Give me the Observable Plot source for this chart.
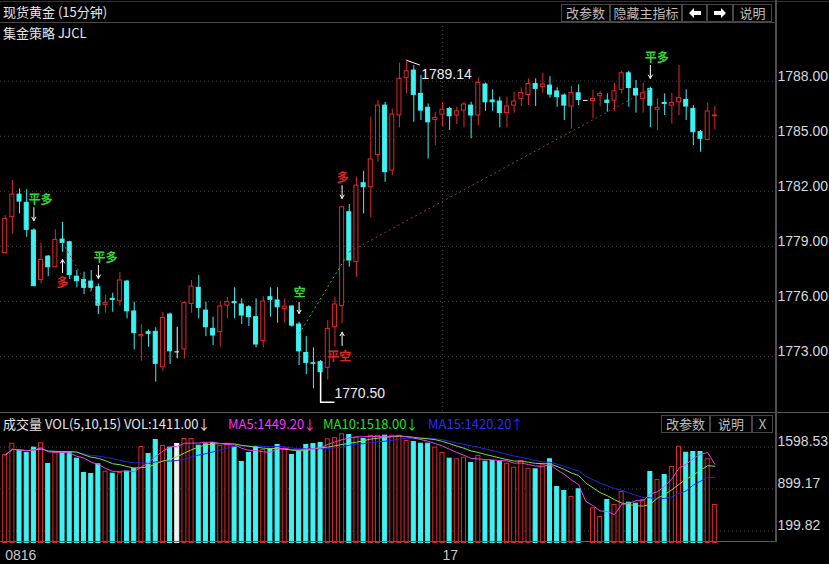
<!DOCTYPE html>
<html><head><meta charset="utf-8">
<script src="https://cdn.jsdelivr.net/npm/d3@7"></script>
<script src="https://cdn.jsdelivr.net/npm/@observablehq/plot@0.6"></script>
<style>
html,body{margin:0;padding:0;background:#000;}
#root{position:relative;width:829px;height:564px;background:#000;overflow:hidden;font-family:"Noto Sans CJK SC","Noto Sans",sans-serif;color:#e6e6e6;}
.abs{position:absolute;white-space:nowrap;}
.btn{position:absolute;box-sizing:border-box;border:1px solid #464646;color:#bdbdbd;font-size:13px;line-height:16px;text-align:center;}
.hl{position:absolute;height:1px;background:#484848;}
.vl{position:absolute;width:2px;background:#4e4e4e;}
</style></head><body><div id="root">
<div id="main" class="abs" style="left:0;top:22px;"></div>
<div id="vol" class="abs" style="left:0;top:412px;"></div>
<div class="abs" style="left:3px;top:2px;font-size:13px;line-height:20px;">现货黄金 (15分钟)</div>
<div class="btn" style="left:561px;top:4px;width:49px;height:18px;">改参数</div>
<div class="btn" style="left:610px;top:4px;width:72px;height:18px;">隐藏主指标</div>
<div class="btn" style="left:682px;top:4px;width:25px;height:18px;"><svg width="12" height="10" style="margin-top:3px"><polygon points="0,5 5,0 5,3 12,3 12,7 5,7 5,10" fill="#fff"/></svg></div>
<div class="btn" style="left:707px;top:4px;width:26px;height:18px;"><svg width="12" height="10" style="margin-top:3px"><polygon points="12,5 7,0 7,3 0,3 0,7 7,7 7,10" fill="#fff"/></svg></div>
<div class="btn" style="left:733px;top:4px;width:39px;height:18px;">说明</div>
<div class="hl" style="left:0;top:1px;width:829px;background:#333;"></div>
<div class="hl" style="left:0;top:22px;width:776px;"></div>
<div class="abs" style="left:3px;top:24px;font-size:13px;line-height:18px;">集金策略 JJCL</div>
<div class="hl" style="left:0;top:412px;width:829px;background:#5a5a5a;"></div>
<div class="abs" style="left:3px;top:415px;font-size:13px;line-height:18px;color:#e6e6e6;">成交量 VOL(5,10,15) VOL:1411.00<span style="margin-left:-1px">↓</span></div>
<div class="abs" style="left:228px;top:415px;font-size:13px;line-height:18px;color:#ff30ff;">MA5:1449.20<span style="margin-left:-1px">↓</span></div>
<div class="abs" style="left:323px;top:415px;font-size:13px;line-height:18px;color:#22e022;">MA10:1518.00<span style="margin-left:-1px">↓</span></div>
<div class="abs" style="left:428px;top:415px;font-size:13px;line-height:18px;color:#2a2aff;">MA15:1420.20<span style="margin-left:-1px">↑</span></div>
<div class="btn" style="left:661px;top:415px;width:49px;height:18px;">改参数</div>
<div class="btn" style="left:710px;top:415px;width:42px;height:18px;">说明</div>
<div class="btn" style="left:752px;top:415px;width:21px;height:18px;">X</div>
<div class="hl" style="left:0;top:541px;width:776px;background:#5a5a5a;"></div>
<div class="vl" style="left:775px;top:0;height:542px;"></div>
</div>
<script>
// ---- data (15-minute bars) ----
const open = [1778.63,1780.59,1781.82,1781.37,1779.86,1777.17,1778.44,1777.86,1779.37,1779.22,
1777.35,1777.17,1777.08,1776.77,1775.81,1776.14,1776.01,1777.08,1775.45,1774.10,
1774.32,1774.34,1772.41,1775.28,1773.25,1773.38,1775.86,1776.74,1775.50,1774.50,
1774.32,1775.77,1775.96,1775.83,1775.68,1775.14,1773.83,1776.23,1776.05,1775.59,
1775.72,1774.74,1773.19,1772.63,1772.69,1772.38,1774.59,1775.74,1780.86,1778.14,
1782.44,1782.22,1783.98,1786.67,1783.13,1786.13,1788.16,1788.58,1787.31,1786.55,
1785.89,1786.18,1786.49,1786.13,1786.40,1786.67,1786.13,1787.82,1786.95,1786.89,
1786.26,1786.67,1787.04,1787.25,1787.85,1787.67,1787.76,1787.44,1787.22,1786.62,
1787.34,1786.95,1786.91,1787.18,1786.94,1786.94,1787.53,1788.43,1787.58,1787.04,
1787.58,1786.44,1786.82,1786.67,1786.85,1786.98,1786.49,1785.22,1784.80,1786.09];
const high = [1780.68,1782.59,1782.13,1782.09,1779.95,1779.17,1778.50,1779.90,1780.31,1779.28,
1777.68,1777.59,1777.68,1776.95,1776.32,1776.45,1777.59,1777.14,1775.96,1774.74,
1774.45,1774.56,1775.41,1775.36,1774.59,1775.99,1777.14,1777.41,1775.96,1775.14,
1775.96,1776.23,1776.74,1776.14,1775.77,1776.14,1776.26,1776.74,1776.74,1776.14,
1775.77,1774.86,1774.08,1773.47,1772.78,1774.96,1776.23,1781.13,1781.28,1782.77,
1783.09,1786.04,1786.95,1786.85,1786.49,1788.98,1789.14,1788.85,1788.31,1786.76,
1786.31,1786.85,1786.58,1786.58,1786.85,1786.85,1788.18,1787.89,1787.53,1787.13,
1787.13,1787.40,1787.64,1788.13,1788.13,1788.43,1788.25,1787.64,1787.31,1787.71,
1787.80,1786.95,1787.49,1787.45,1787.31,1787.89,1788.54,1788.54,1788.04,1787.89,
1787.67,1787.04,1787.31,1787.34,1788.85,1787.53,1786.67,1785.31,1786.80,1786.62];
const low = [1778.59,1779.68,1780.77,1779.50,1776.80,1776.95,1777.35,1777.83,1778.68,1777.19,
1776.74,1776.37,1776.55,1775.28,1775.36,1775.41,1775.74,1775.05,1773.36,1772.74,
1773.50,1771.60,1772.19,1772.56,1772.87,1772.87,1775.36,1775.05,1774.08,1773.59,
1773.50,1775.05,1775.05,1774.74,1774.63,1773.47,1773.47,1775.14,1774.81,1774.81,
1774.59,1772.50,1772.01,1771.23,1770.50,1771.72,1773.50,1774.77,1777.86,1777.32,
1780.77,1780.55,1783.58,1782.49,1782.86,1785.46,1787.31,1785.76,1785.86,1783.77,
1784.49,1785.53,1785.31,1785.64,1785.46,1784.86,1785.58,1786.36,1786.36,1785.46,
1785.46,1786.26,1786.62,1786.67,1786.62,1787.34,1787.07,1786.58,1785.86,1785.40,
1786.67,1786.95,1785.95,1786.62,1786.31,1786.36,1787.31,1786.58,1786.26,1786.26,
1785.46,1785.31,1786.13,1785.67,1786.13,1785.86,1784.49,1784.13,1784.77,1785.35];
const close = [1780.50,1781.82,1781.44,1779.90,1776.83,1778.26,1777.86,1779.35,1779.19,1777.44,
1777.10,1776.74,1776.74,1775.77,1775.92,1776.08,1777.14,1775.46,1774.27,1774.17,
1774.23,1772.60,1775.10,1773.28,1773.25,1775.92,1776.81,1775.65,1774.59,1774.14,
1775.72,1775.96,1775.90,1775.23,1775.14,1773.65,1775.99,1776.08,1775.68,1775.72,
1774.68,1773.28,1772.65,1772.60,1772.14,1774.50,1775.83,1781.13,1778.23,1782.31,
1782.22,1783.73,1786.67,1783.04,1786.18,1788.13,1788.54,1787.25,1786.40,1785.76,
1786.00,1786.44,1786.09,1786.36,1786.73,1786.13,1787.91,1786.85,1786.85,1786.26,
1786.62,1786.89,1787.36,1787.85,1787.58,1787.82,1787.27,1787.13,1786.67,1787.36,
1786.98,1786.95,1787.04,1787.31,1786.82,1787.45,1788.43,1787.63,1787.22,1787.34,
1786.67,1786.55,1786.76,1786.82,1787.09,1786.62,1785.22,1784.86,1786.35,1786.13];
const volume = [1465,1653,1532,1499,1587,1660,1315,1499,1494,1510,
1404,1166,1149,1310,1187,1154,1166,1187,1237,1598,
1482,1715,1615,1587,1648,1732,1732,1620,1643,1665,
1615,1653,1598,1349,1499,1598,1548,1560,1632,1560,
1465,1532,1632,1648,1665,1727,1748,1810,1798,1753,
1732,1786,1786,1786,1786,1786,1698,1682,1653,1653,
1587,1499,1404,1394,1420,1332,1449,1354,1365,1354,
1320,1254,1365,1237,1227,1294,1394,932,866,766,
894,0,578,433,716,633,849,671,654,716,
1182,1049,1132,1265,1603,1503,1515,1515,1394,633];

const priceTicks = [1773, 1776, 1779, 1782, 1785, 1788];
const volTicks = [199.82, 899.17, 1598.53];
const dateTicks = [0, 61];
const dateLabels = ["0816", "17"];
const daySeparators = [61];

// strategy (集金策略) signals
const trades = [
  {i1: 8, p1: 1779.20, i2: 13, p2: 1775.82, side: "long"},
  {i1: 41, p1: 1774.23, i2: 48, p2: 1778.70, side: "short"},
  {i1: 48, p1: 1778.70, i2: 90, p2: 1787.59, side: "long"}
];
const signalText = ["平多", "多", "平多", "空", "平空", "多", "平多"];
const signalKind = ["green", "red", "green", "green", "red", "red", "green"];
const signalX = [4.92, 8.0, 14.0, 41.1, 46.6, 47.1, 90.9];
const signalY = [1781.50, 1776.97, 1778.33, 1776.43, 1772.94, 1782.70, 1789.24];
const arrowX = [4, 8, 13, 41, 47, 47, 90];
const arrowFrom = [1781.11, 1777.57, 1777.96, 1775.94, 1773.60, 1782.31, 1788.86];
const arrowTo = [1780.40, 1778.28, 1777.25, 1775.34, 1774.32, 1781.61, 1788.15];
const highMark = {i: 56, p: 1789.14, li: 57.84, lp: 1788.88, ti: 58.03, tp: 1788.35, label: "1789.14"};
const lowMark = {i: 44, p: 1770.50, top: 1772.14, li: 45.85, ti: 45.94, tp: 1770.97, label: "1770.50"};

// ---- build ----
const RED = "#e0282a", CYAN = "#3ef2f2", WHITE = "#f2f2f2";
const candles = close.map((c, i) => ({i, o: open[i], h: high[i], l: low[i], c, v: volume[i]}));
const col = d => d.c > d.o ? RED : d.c < d.o ? CYAN : WHITE;
const bodyFill = d => d.c > d.o ? "#000" : col(d);
const hw = 0.28;
const xDomain = [-0.656, 107.6];
const signals = signalText.map((t, k) => ({t, x: signalX[k], y: signalY[k], c: signalKind[k] === "green" ? "#2fdc2f" : "#e02424"}));
const arrows = arrowX.map((x, k) => ({x, y1: arrowFrom[k], y2: arrowTo[k]}));

const main = Plot.plot({
  width: 829, height: 390, marginLeft: 0, marginRight: 53, marginTop: 22, marginBottom: 1,
  x: {type: "linear", domain: xDomain, axis: null, label: null},
  y: {domain: [1770, 1790], axis: null, label: null},
  color: {type: "identity"},
  style: {background: "transparent", color: "#d8d8d8", fontFamily: "Liberation Sans", overflow: "visible"},
  marks: [
    Plot.gridY(priceTicks, {stroke: "#454545", strokeOpacity: 1, strokeDasharray: "1,3"}),
    Plot.ruleX(daySeparators, {x: d => d, insetTop: -22, stroke: "#454545", strokeDasharray: "1,3"}),
    Plot.axisY(priceTicks, {anchor: "right", label: null, tickSize: 0, tickPadding: 1, dy: -5, tickFormat: d => d.toFixed(2), fill: "#d8d8d8", fontSize: 14, fontFamily: "Liberation Sans"}),
    Plot.ruleX(candles, {x: "i", y1: "l", y2: "h", stroke: col}),
    Plot.rect(candles.filter(d => d.o !== d.c), {x1: d => d.i - hw, x2: d => d.i + hw, y1: "o", y2: "c", fill: bodyFill, stroke: col}),
    Plot.ruleY(candles.filter(d => d.o === d.c), {y: "o", x1: d => d.i - hw - 0.05, x2: d => d.i + hw + 0.05, stroke: WHITE}),
    Plot.link(trades, {x1: "i1", y1: "p1", x2: "i2", y2: "p2", stroke: d => d.side === "long" ? "#c82a2a" : "#2ac82a", strokeDasharray: "2,3"}),
    Plot.arrow(arrows, {x1: "x", y1: "y1", x2: "x", y2: "y2", stroke: "#ffffff", headLength: 6, strokeWidth: 1}),
    Plot.text(signals, {x: "x", y: "y", text: "t", fill: "c", fontSize: 12, fontFamily: "Noto Sans CJK SC", fontWeight: "bold"}),
    Plot.link([highMark], {x1: "i", y1: "p", x2: "li", y2: "lp", stroke: "#ffffff"}),
    Plot.text([highMark], {x: "ti", y: "tp", text: "label", textAnchor: "start", fill: "#ececec", fontSize: 14, fontFamily: "Liberation Sans"}),
    Plot.line([[lowMark.i, lowMark.top], [lowMark.i, lowMark.p], [lowMark.li, lowMark.p]], {x: d => d[0], y: d => d[1], stroke: "#ffffff"}),
    Plot.text([lowMark], {x: "ti", y: "tp", text: "label", textAnchor: "start", fill: "#ececec", fontSize: 14, fontFamily: "Liberation Sans"})
  ]
});
document.getElementById("main").appendChild(main);

const vol = Plot.plot({
  width: 829, height: 152, marginLeft: 0, marginRight: 53, marginTop: 20, marginBottom: 21.5,
  x: {type: "linear", domain: xDomain, axis: null, label: null},
  y: {domain: [0, 1839.8], axis: null, label: null},
  color: {type: "identity"},
  style: {background: "transparent", color: "#d8d8d8", fontFamily: "Liberation Sans", overflow: "visible"},
  marks: [
    Plot.gridY(volTicks, {stroke: "#454545", strokeOpacity: 1, strokeDasharray: "1,3"}),
    Plot.axisY(volTicks, {anchor: "right", label: null, tickSize: 0, tickPadding: 1, dy: -5.5, tickFormat: d => d.toFixed(2), fill: "#d8d8d8", fontSize: 14, fontFamily: "Liberation Sans"}),
    Plot.axisX(dateTicks, {anchor: "bottom", label: null, tickSize: 0, tickPadding: 7, textAnchor: "start", tickFormat: d => dateLabels[dateTicks.indexOf(d)], fill: "#c8c8c8", fontSize: 14, fontFamily: "Liberation Sans"}),
    Plot.rect(candles.filter(d => d.v > 0), {x1: d => d.i - hw, x2: d => d.i + hw, y1: 0, y2: "v", fill: bodyFill, stroke: col}),
    Plot.lineY(candles, Plot.windowY({k: 15, anchor: "end"}, {x: "i", y: "v", stroke: "#2424e8", strokeWidth: 1})),
    Plot.lineY(candles, Plot.windowY({k: 10, anchor: "end"}, {x: "i", y: "v", stroke: "#7ee040", strokeWidth: 1})),
    Plot.lineY(candles, Plot.windowY({k: 5, anchor: "end"}, {x: "i", y: "v", stroke: "#f03cf0", strokeWidth: 1}))
  ]
});
document.getElementById("vol").appendChild(vol);
</script>
</body></html>
